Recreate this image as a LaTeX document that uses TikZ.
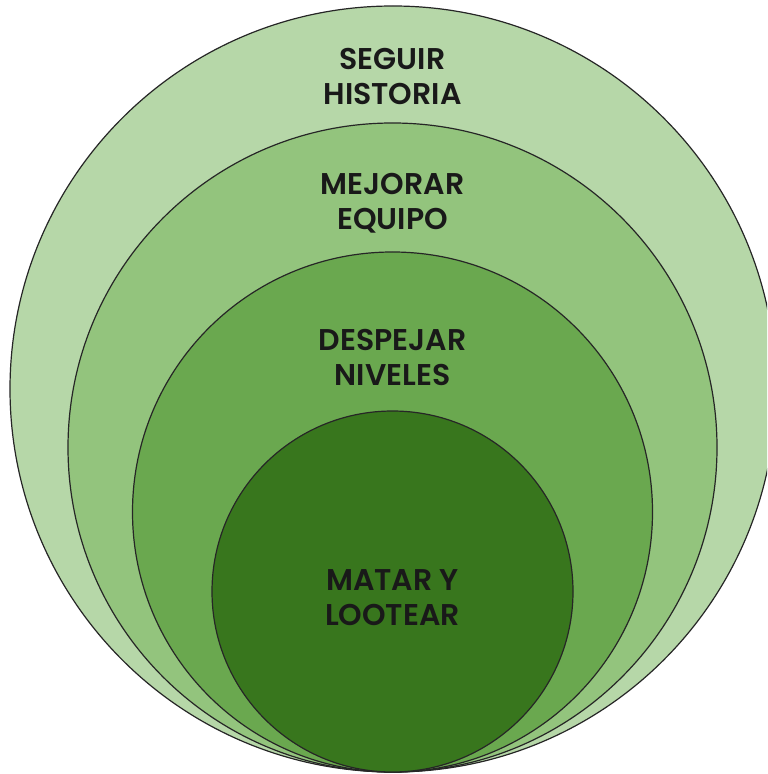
\documentclass[tikz,border=0pt]{standalone}
\usepackage{fontspec}
\setmainfont{Poppins}[BoldFont={Poppins SemiBold}]
\usepackage{xcolor}
\definecolor{ringA}{HTML}{B6D7A8}
\definecolor{ringB}{HTML}{93C47D}
\definecolor{ringC}{HTML}{6AA84F}
\definecolor{ringD}{HTML}{38761D}
\begin{document}
\begin{tikzpicture}
    [
      x = 0.5pt, y = -0.5pt,
      ring/.style = {draw=black!85, line width=0.6pt},
      lbl/.style = {align=center, font=\fontsize{15}{17.5}\selectfont\bfseries, text=black!90},
    ]
    \useasboundingbox (0,0) rectangle (767,774);
    \clip (0,0) rectangle (767,774);

    \fill[white] (0,0) rectangle (767,774);
    \draw[ring, fill=ringA] (393,389) circle[radius=191.5pt];
    \draw[ring, fill=ringB] (392.5,447.5) circle[radius=162.25pt];
    \draw[ring, fill=ringC] (392.5,512) circle[radius=130pt];
    \draw[ring, fill=ringD] (392.5,591.5) circle[radius=90.25pt];

    \node[lbl] (historia) at (392.5,76) {SEGUIR\\HISTORIA};
    \node[lbl] (equipo) at (392.5,203) {MEJORAR\\EQUIPO};
    \node[lbl] (niveles) at (392.5,357) {DESPEJAR\\NIVELES};
    \node[lbl] (lootear) at (392.5,598) {MATAR Y\\LOOTEAR};
  \end{tikzpicture}
\end{document}
